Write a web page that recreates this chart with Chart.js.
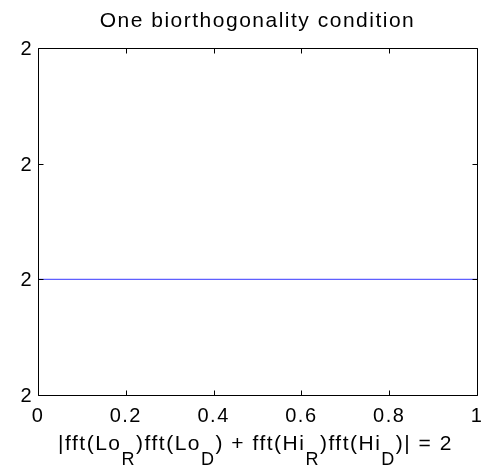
<!DOCTYPE html>
<html><head><meta charset="utf-8">
<script src="https://cdn.jsdelivr.net/npm/chart.js@4/dist/chart.umd.min.js"></script>
<style>html,body{margin:0;padding:0;background:#fff;} #wrap{width:483px;height:469px;}</style>
</head><body><div id="wrap"><canvas id="c" width="483" height="469"></canvas></div>
<script>
const titleText = 'One biorthogonality condition';
const xValues = [0, 0.25, 0.5, 0.75, 1];
const yValues = [2, 2, 2, 2, 2];
const xTickValues = [0, 0.2, 0.4, 0.6, 0.8, 1];
const xTickLabels = ['0', '0.2', '0.4', '0.6', '0.8', '1'];
// y axis: MATLAB auto-range of a constant 2 spans a few eps around 2
const yCenter = 2;
const yTickOffsetsEps = [-1, 0, 1, 2];
const yTickLabels = ['2', '2', '2', '2'];
const xLabelParts = [
  ['|fft(Lo', false], ['R', true], [')fft(Lo', false], ['D', true],
  [') + fft(Hi', false], ['R', true], [')fft(Hi', false], ['D', true], [')| = 2', false]
];

const family = "'Liberation Sans', Arial, sans-serif";

const matlabFrame = {
  id: 'matlabFrame',
  beforeDraw(chart) { chart.ctx.letterSpacing = '1.5px'; },
  afterDraw(chart) {
    const {ctx, chartArea: a, scales: {x, y}} = chart;
    ctx.save();
    ctx.strokeStyle = '#000'; ctx.lineWidth = 1;
    const L = Math.round(a.left) + 0.5, R = Math.round(a.right) + 0.5;
    const T = Math.round(a.top) + 0.5, B = Math.round(a.bottom) + 0.5;
    ctx.beginPath();
    ctx.rect(L, T, R - L, B - T);
    const tl = 5;
    x.ticks.forEach(t => {
      const px = Math.round(x.getPixelForValue(t.value)) + 0.5;
      ctx.moveTo(px, B); ctx.lineTo(px, B - tl);
      ctx.moveTo(px, T); ctx.lineTo(px, T + tl);
    });
    y.ticks.forEach(t => {
      const py = Math.round(y.getPixelForValue(t.value)) + 0.5;
      ctx.moveTo(L, py); ctx.lineTo(L + tl, py);
      ctx.moveTo(R, py); ctx.lineTo(R - tl, py);
    });
    ctx.stroke();
    const mainFont = "21px " + family;
    const subFont = "18px " + family;
    ctx.fillStyle = '#000'; ctx.textBaseline = 'alphabetic'; ctx.textAlign = 'left';
    let total = 0;
    const widths = xLabelParts.map(([s, sub]) => {
      ctx.font = sub ? subFont : mainFont;
      const w = ctx.measureText(s).width; total += w; return w;
    });
    let cx = (a.left + a.right) / 2 - 2 - total / 2;
    const base = a.bottom + 55;
    xLabelParts.forEach(([s, sub], i) => {
      ctx.font = sub ? subFont : mainFont;
      ctx.fillText(s, cx, sub ? base + 15 : base);
      cx += widths[i];
    });
    ctx.restore();
    ctx.letterSpacing = '0px';
  }
};

new Chart(document.getElementById('c'), {
  type: 'line',
  data: {
    datasets: [{
      data: xValues.map((xv, i) => ({x: xv, y: (yValues[i] - yCenter) / Number.EPSILON})),
      borderColor: 'rgb(95,95,255)', borderWidth: 1.2, pointRadius: 0, fill: false, tension: 0
    }]
  },
  options: {
    responsive: false, animation: false, devicePixelRatio: 1,
    layout: {padding: {left: 0, right: 6, top: 0, bottom: 0}},
    plugins: {
      legend: {display: false}, tooltip: {enabled: false},
      title: {
        display: true, text: titleText, fullSize: false, color: '#000',
        font: {family, size: 21, weight: 'normal', lineHeight: 1.2},
        padding: {top: 8.4, bottom: 14.4}
      }
    },
    scales: {
      x: {
        type: 'linear', min: 0, max: 1,
        grid: {display: false, drawTicks: false}, border: {display: false},
        afterBuildTicks: s => { s.ticks = xTickValues.map(v => ({value: v})); },
        ticks: {color: '#000', font: {family, size: 20}, padding: 9.4, maxRotation: 0, autoSkip: false,
                callback: (v, i) => xTickLabels[i]},
        afterFit: s => { s.height = 74; s.paddingLeft = 0; s.paddingRight = 0; }
      },
      y: {
        type: 'linear', min: -1, max: 2,
        grid: {display: false, drawTicks: false}, border: {display: false},
        afterBuildTicks: s => { s.ticks = yTickOffsetsEps.map(v => ({value: v})); },
        ticks: {color: '#000', font: {family, size: 20}, padding: 5, labelOffset: 1.5, autoSkip: false,
                callback: (v, i) => yTickLabels[i]},
        afterFit: s => { s.width = 38; s.paddingTop = 0; s.paddingBottom = 0; }
      }
    }
  },
  plugins: [matlabFrame]
});
</script></body></html>
